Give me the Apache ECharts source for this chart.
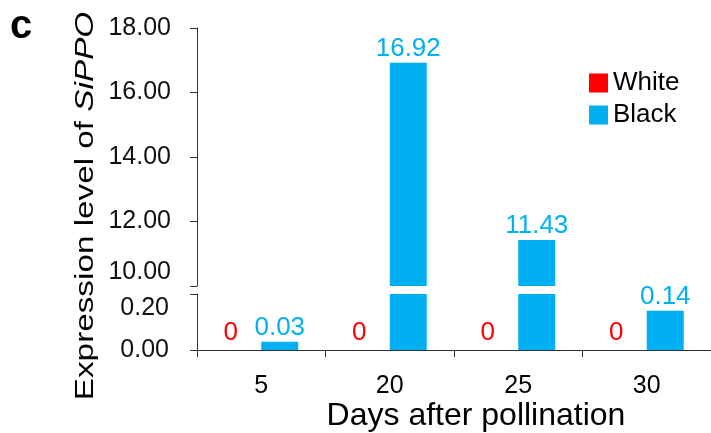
<!DOCTYPE html>
<html>
<head>
<meta charset="utf-8">
<script src="https://cdn.jsdelivr.net/npm/echarts@6/dist/echarts.min.js"></script>
<style>html,body{margin:0;padding:0;background:#fff;}#c{width:711px;height:433px;}</style>
</head>
<body>
<div id="c"></div>
<script>
var categories = ['5', '20', '25', '30'];
var whiteValues = [0, 0, 0, 0];
var blackValues = [0.03, 16.92, 11.43, 0.14];
var upperMin = 10, upperMax = 18, upperStep = 2;
var lowerMin = 0, lowerMax = 0.2, lowerStep = 0.2;

var FONT = 'Liberation Sans, Arial, sans-serif';
var RED = '#ff0000', BLUE = '#00b0f0', AXIS = '#333333';

function items(vals, show) {
  return vals.map(function (v) { return { value: v, label: { show: show(v) } }; });
}

var chart = echarts.init(document.getElementById('c'), null, { renderer: 'canvas' });
var axisCommon = {
  axisLine: { show: true, lineStyle: { color: AXIS, width: 1 } },
  axisTick: { show: true, length: 7, lineStyle: { color: AXIS } },
  splitLine: { show: false }
};
var option = {
  animation: false,
  backgroundColor: '#ffffff',
  textStyle: { fontFamily: FONT },
  legend: {
    data: ['White', 'Black'],
    orient: 'vertical', left: 584, top: 65,
    itemWidth: 19, itemHeight: 19, itemGap: 6, itemTextGap: 11,
    icon: 'rect',
    textStyle: { fontSize: 26, color: '#000', fontFamily: FONT }
  },
  grid: [
    { left: 197, right: -2, top: 28, height: 258 },
    { left: 197, right: -2, top: 294, height: 59 }
  ],
  xAxis: [
    { type: 'category', gridIndex: 0, data: categories, show: false },
    Object.assign({}, axisCommon, {
      type: 'category', gridIndex: 1, data: categories,
      axisLabel: { fontSize: 25, color: '#000', margin: 24, fontFamily: FONT },
      name: 'Days after pollination', nameLocation: 'middle', nameGap: 46,
      nameTextStyle: { fontSize: 32, color: '#000', fontFamily: FONT, padding: [0, 0, 0, 44] }
    })
  ],
  yAxis: [
    Object.assign({}, axisCommon, {
      type: 'value', gridIndex: 0, min: upperMin, max: upperMax, interval: upperStep,
      axisLabel: {
        fontSize: 25, color: '#111', margin: 26, lineHeight: 28, fontFamily: FONT,
        formatter: function (v) { var s = v.toFixed(2); return v === upperMin ? s + '\n ' : s; }
      }
    }),
    Object.assign({}, axisCommon, {
      type: 'value', gridIndex: 1, min: lowerMin, max: lowerMax, interval: lowerStep,
      axisLabel: {
        fontSize: 25, color: '#111', margin: 28, lineHeight: 28, fontFamily: FONT,
        formatter: function (v) { var s = v.toFixed(2); return v === lowerMax ? ' \n' + s : s; }
      }
    })
  ],
  series: [
    {
      name: 'White', type: 'bar', xAxisIndex: 0, yAxisIndex: 0, barWidth: 37, barGap: '0%',
      itemStyle: { color: RED }, data: items(whiteValues, function () { return false; }),
      label: { show: false }
    },
    {
      name: 'Black', type: 'bar', xAxisIndex: 0, yAxisIndex: 0, barWidth: 37, barGap: '0%',
      itemStyle: { color: BLUE },
      data: items(blackValues, function (v) { return v >= upperMin; }),
      label: { position: 'top', distance: 1, fontSize: 26, color: BLUE, fontFamily: FONT }
    },
    {
      name: 'White', type: 'bar', xAxisIndex: 1, yAxisIndex: 1, barWidth: 37, barGap: '0%',
      itemStyle: { color: RED },
      data: items(whiteValues, function (v) { return v <= lowerMax; }),
      label: { position: 'top', distance: 4, offset: [-12, 0], fontSize: 26, color: RED, fontFamily: FONT }
    },
    {
      name: 'Black', type: 'bar', xAxisIndex: 1, yAxisIndex: 1, barWidth: 37, barGap: '0%',
      itemStyle: { color: BLUE },
      data: items(blackValues, function (v) { return v <= lowerMax; }),
      label: { position: 'top', distance: 1, fontSize: 26, color: BLUE, fontFamily: FONT }
    }
  ],
  graphic: [
    {
      type: 'text', x: 21, y: 27,
      style: { text: 'c', fontSize: 40, fontWeight: 'bold', fontFamily: FONT, fill: '#000', align: 'center', verticalAlign: 'middle' }
    },
    {
      type: 'text', x: 86, y: 206, rotation: Math.PI / 2, scaleX: 1.28,
      style: {
        text: 'Expression level of {i|SiPPO}', fontSize: 26, fontFamily: FONT, fill: '#000',
        align: 'center', verticalAlign: 'middle',
        rich: { i: { fontStyle: 'italic', fontSize: 26, fontFamily: FONT, fill: '#000' } }
      }
    }
  ]
};
chart.setOption(option);
</script>
</body>
</html>
